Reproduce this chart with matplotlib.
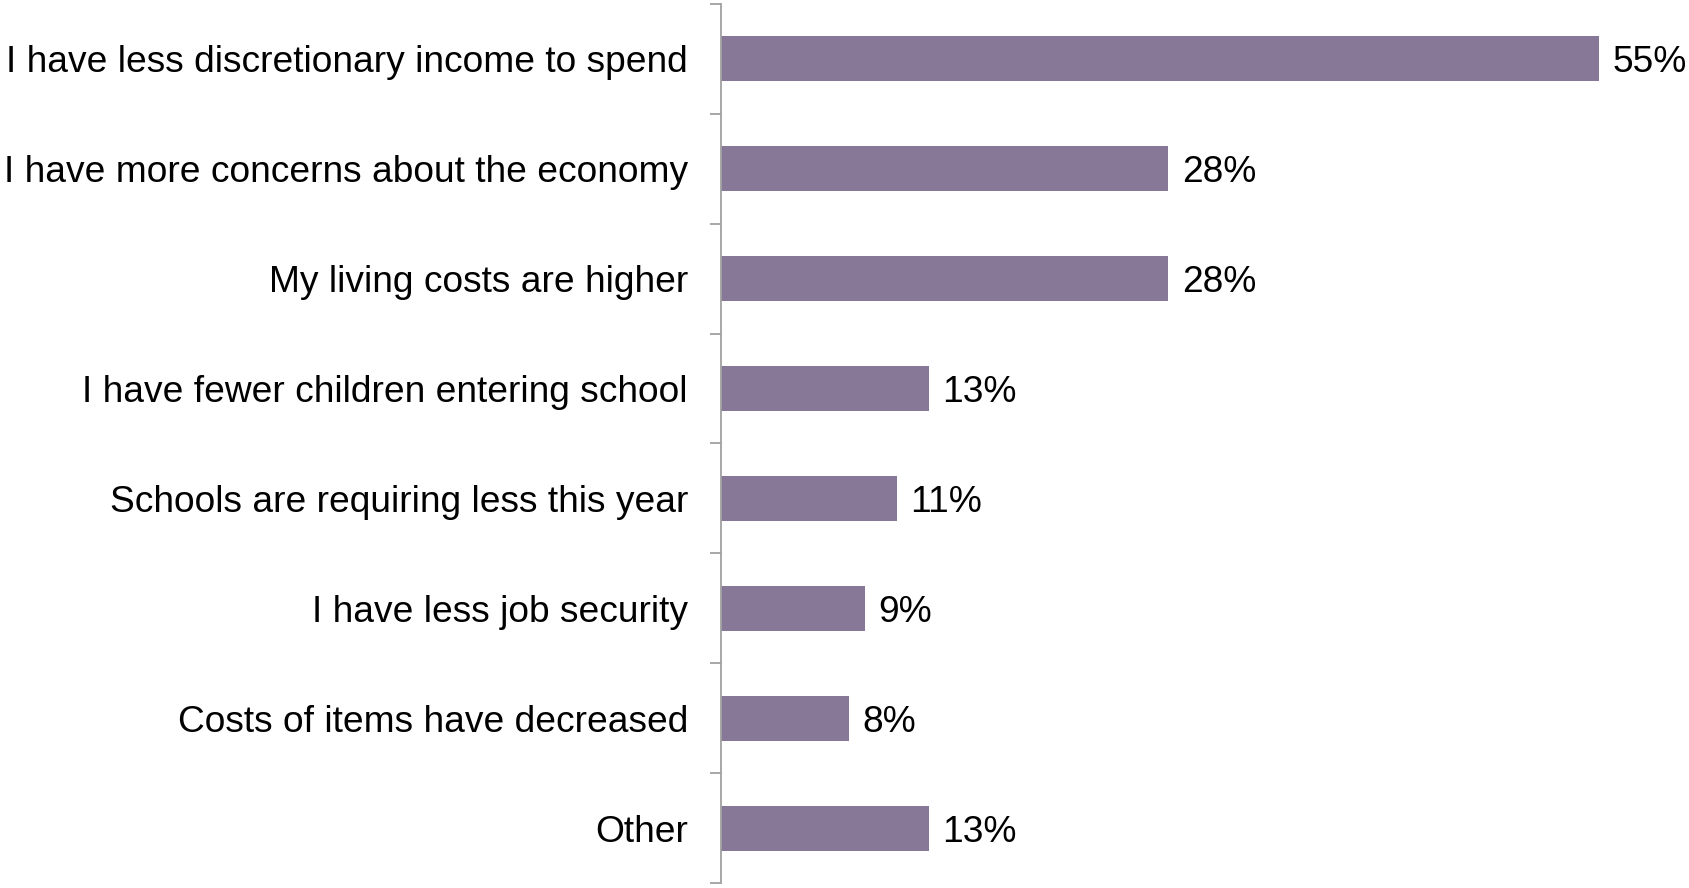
import numpy as np
import matplotlib.pyplot as plt
from matplotlib.ticker import FixedLocator

plt.rcParams['font.family'] = ['Liberation Sans', 'DejaVu Sans']

reasons = [
    'I have less discretionary income to spend',
    'I have more concerns about the economy',
    'My living costs are higher',
    'I have fewer children entering school',
    'Schools are requiring less this year',
    'I have less job security',
    'Costs of items have decreased',
    'Other',
]
shares = [55, 28, 28, 13, 11, 9, 8, 13]

BAR_COLOR = '#877898'
AXIS_COLOR = '#a0a0a0'
FONT_SIZE = 26.7

fig = plt.figure(figsize=(16.9, 8.88), dpi=100)
ax = fig.add_axes([721 / 1690, 5 / 888, 1 - 721 / 1690, 879 / 888])

pos = np.arange(len(reasons))
ax.barh(pos, shares, height=0.41, color=BAR_COLOR)

ax.set_ylim(len(reasons) - 0.5, -0.5)
ax.set_xlim(0, 55 * 969 / 878)

for y, v in zip(pos, shares):
    ax.annotate(f'{v}%', (v, y), xytext=(10, 0), textcoords='offset points',
                ha='left', va='center_baseline', fontsize=FONT_SIZE, color='black')

# category names sit between the boundary ticks
ax.set_yticks(pos)
ax.set_yticklabels(reasons, fontsize=FONT_SIZE, va='center_baseline')
ax.tick_params(axis='y', which='major', length=0, pad=33 * 72 / 100)
ax.yaxis.set_minor_locator(FixedLocator(np.arange(-0.5, len(reasons), 1.0)))
ax.tick_params(axis='y', which='minor', length=8, width=1.3, color=AXIS_COLOR)

ax.set_xticks([])
for side in ['top', 'right', 'bottom']:
    ax.spines[side].set_visible(False)
ax.spines['left'].set_color(AXIS_COLOR)
ax.spines['left'].set_linewidth(1.3)

fig.savefig('out.png', dpi=100)
